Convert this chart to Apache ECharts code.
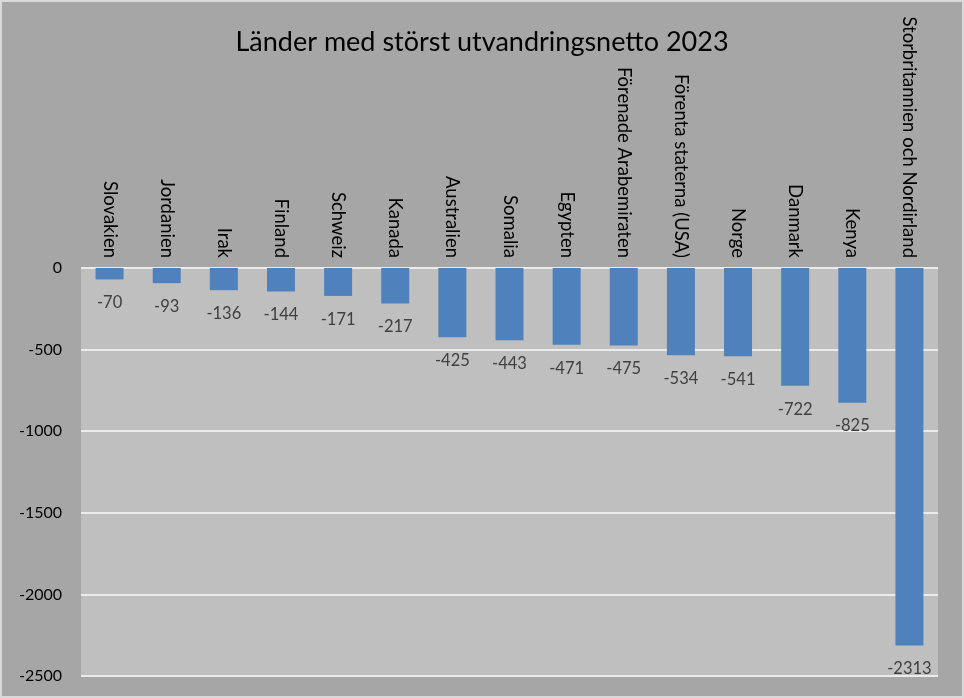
<!DOCTYPE html>
<html><head><meta charset="utf-8">
<script src="https://cdn.jsdelivr.net/npm/echarts@6/dist/echarts.min.js"></script>
<style>
html,body{margin:0;padding:0;background:#d9d9d9;}
#wrap{width:964px;height:698px;box-sizing:border-box;border:2px solid #d9d9d9;background:#a6a6a6;}
#c{width:960px;height:694px;}
</style></head><body>
<div id="wrap"><div id="c"></div></div>
<script>
const titleText = 'Länder med störst utvandringsnetto 2023';
const categories = ['Slovakien','Jordanien','Irak','Finland','Schweiz','Kanada','Australien','Somalia','Egypten','Förenade Arabemiraten','Förenta staterna (USA)','Norge','Danmark','Kenya','Storbritannien och Nordirland'];
const values = [-70,-93,-136,-144,-171,-217,-425,-443,-471,-475,-534,-541,-722,-825,-2313];
const yTicks = {min:-2500, max:0, interval:500};

const fontFam = 'Lato, "Liberation Sans", sans-serif';
const chart = echarts.init(document.getElementById('c'));
chart.setOption({
  backgroundColor: 'transparent',
  animation: false,
  title: {text: titleText, left: 'center', top: 22,
    textStyle: {fontFamily: fontFam, fontSize: 27, fontWeight: 'normal', color: '#000'}},
  grid: {left: 79, right: 24, top: 266, bottom: 20, show: true, backgroundColor: '#bfbfbf', borderWidth: 0},
  xAxis: {type: 'category', data: categories, position: 'top',
    axisLine: {show: false}, axisTick: {show: false},
    axisLabel: {interval: 0, rotate: -90, margin: 10, color: '#000', fontSize: 18.5, fontFamily: fontFam}},
  yAxis: {type: 'value', min: yTicks.min, max: yTicks.max, interval: yTicks.interval,
    axisLine: {show: false}, axisTick: {show: false},
    axisLabel: {color: '#000', fontSize: 16, fontFamily: fontFam, margin: 19, formatter: v => String(v)},
    splitLine: {lineStyle: {color: '#ebebeb', width: 2}}},
  series: [{type: 'bar', data: values, barWidth: '49%',
    itemStyle: {color: '#4f81bd'},
    label: {show: true, position: 'bottom', distance: 15, color: '#404040', fontSize: 16.5, fontFamily: fontFam}}]
});
</script></body></html>
